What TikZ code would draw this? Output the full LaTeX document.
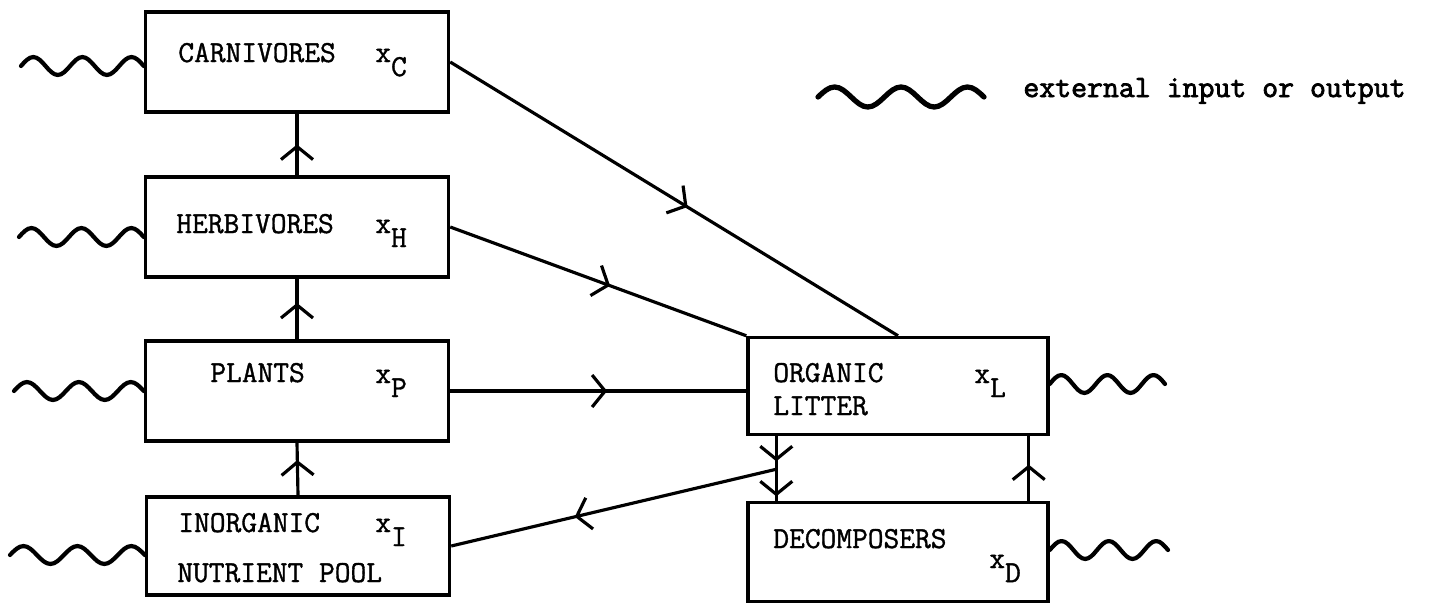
\documentclass[tikz,border=0pt]{standalone}
\usepackage{fontspec}
\usepackage{tikz}
\usetikzlibrary{arrows.meta,positioning,calc,decorations.markings}
\newfontfamily\typewr{Latin Modern Mono}[FakeBold=1.2]
\newfontfamily\keyfont{Latin Modern Mono}[FakeBold=2.5]
\newcommand\lowsub[1]{\raisebox{-8pt}{#1}}

\tikzset{
  box/.style={draw, line width=2pt, inner sep=0pt, minimum width=6.06cm, minimum height=2cm},
  lbl/.style={anchor=base west, inner sep=0pt, font=\typewr\fontsize{17.4}{20}\selectfont},
  arr/.style={line width=1.8pt, postaction={decorate},
    decoration={markings, mark=at position #1 with {\arrow[line width=1.8pt]{Straight Barb[length=2.6mm,width=6.4mm]}}}},
  % two and a half periods of a sine between two points at one height
  wave/.style={line width=2.4pt, line cap=round, line join=round,
    to path={let \p1=($(\tikztotarget)-(\tikztostart)$), \n1={\x1/10} in
      sin ++({\n1*1pt},#1) cos ++({\n1*1pt},-#1) sin ++({\n1*1pt},-#1) cos ++({\n1*1pt},#1)
      sin ++({\n1*1pt},#1) cos ++({\n1*1pt},-#1) sin ++({\n1*1pt},-#1) cos ++({\n1*1pt},#1)
      sin ++({\n1*1pt},#1) cos ++({\n1*1pt},-#1)}},
  wave/.default=5.1pt
}

\begin{document}
\begin{tikzpicture}[x=0.02cm,y=-0.02cm]
			\useasboundingbox (0,0) rectangle (1435,605);
			
			% compartments
			\node[box] (carn) at (297,62) {};
			\node[box] (herb) at (297,227) {};
			\node[box] (plants) at (297,391) {};
			\node[box, minimum height=1.96cm] (inorg) at (298,546) {};
			\node[box, minimum width=6cm, minimum height=1.94cm] (litter) at (898,386) {};
			\node[box, minimum width=6cm, minimum height=1.98cm] (decomp) at (898,552) {};
			
			\node[lbl] (carnT) at (178,62) {CARNIVORES};
			\node[lbl] (carnX) at (375,62) {x\lowsub{C}};
			\node[lbl] (herbT) at (176,233) {HERBIVORES};
			\node[lbl] (herbX) at (375,233) {x\lowsub{H}};
			\node[lbl] (plantsT) at (210,382) {PLANTS};
			\node[lbl] (plantsX) at (375,383) {x\lowsub{P}};
			\node[lbl] (inorgT) at (178,532) {INORGANIC};
			\node[lbl] (inorgU) at (177,582) {NUTRIENT POOL};
			\node[lbl] (inorgX) at (375,532) {x\lowsub{I}};
			\node[lbl] (litterT) at (773,382) {ORGANIC};
			\node[lbl] (litterU) at (773,415) {LITTER};
			\node[lbl] (litterX) at (974,383) {x\lowsub{L}};
			\node[lbl] (decompT) at (773,548) {DECOMPOSERS};
			\node[lbl] (decompX) at (989,568) {x\lowsub{D}};
			
			% flows
			\draw[arr=0.5] (herb.north) -- (carn.south);
			\draw[arr=0.6] (plants.north) -- (herb.south);
			\draw[arr=0.67] (inorg.north) -- (plants.south);
			\draw[arr=0.53] (carn.east) -- (litter.north);
			\draw[arr=0.54] (herb.east) -- (litter.north west);
			\draw[arr=0.53] (plants.east) -- (plants.east -| litter.west);
			
			\coordinate (jct) at ($(litter.south west)+(30,33)$);
			\draw[arr=0.76] ($(litter.south west)+(30,0)$) -- (jct);
			\draw[arr=0.86] (jct) -- (jct |- decomp.north);
			\draw[arr=0.62] (jct) -- (inorg.east);
			\draw[arr=0.56] ($(decomp.north east)+(-21,0)$) -- ($(litter.south east)+(-21,0)$);
			
			% external input / output
			\coordinate (carnW) at (21,66);
			\coordinate (herbW) at (19,237);
			\coordinate (plantsW) at (14,391);
			\coordinate (inorgW) at (10,555);
			\coordinate (litterW) at (1165,384);
			\coordinate (decompW) at (1168,550);
			\draw[wave] (carnW) to ($(carn.west)+(0,4)$);
			\draw[wave] (herbW) to ($(herb.west)+(0,10)$);
			\draw[wave] (plantsW) to (plants.west);
			\draw[wave] (inorgW) to ($(inorg.west)+(0,9)$);
			\draw[wave] ($(litter.east)+(0,-2)$) to (litterW);
			\draw[wave] ($(decomp.east)+(0,-2)$) to (decompW);
			
			% key
			\coordinate (keyA) at (818,97);
			\coordinate (keyB) at (984,97);
			\draw[wave=5.7pt, line width=3pt] (keyA) to (keyB);
			\node[anchor=base west, inner sep=0pt, font=\keyfont\fontsize{17.6}{20}\selectfont] (keyT) at (1023,97) {external input or output};
			
		\end{tikzpicture}
\end{document}
